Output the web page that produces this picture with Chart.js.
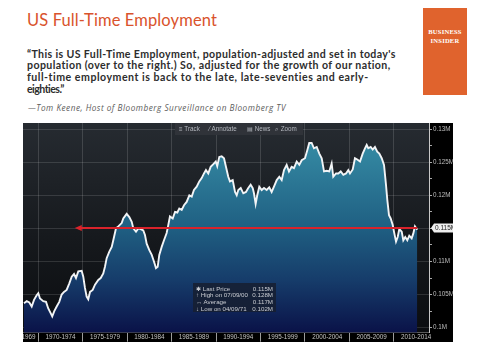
<!DOCTYPE html>
<html><head><meta charset="utf-8">
<script src="https://cdn.jsdelivr.net/npm/chart.js@4.4.1/dist/chart.umd.min.js"></script>
<style>
html,body{margin:0;padding:0;background:#fff;width:480px;height:359px;overflow:hidden;}
body{position:relative;font-family:Lato,"Open Sans",sans-serif;}
.abs{position:absolute;white-space:nowrap;line-height:1;}
#title{left:27px;top:12px;font-size:16.5px;color:#d9532c;font-weight:400;}
.q{left:27px;font-size:10.6px;font-weight:700;color:#2d2d2d;}
#attr{left:28px;top:104px;font-size:8.2px;font-style:italic;color:#5c5c5c;font-family:"Open Sans",sans-serif;}
#logo{position:absolute;left:423px;top:8px;width:44px;height:87px;background:#e0632d;}
#logo div{position:absolute;left:0;width:44px;text-align:center;color:#fff;font-family:"Liberation Serif","DejaVu Serif",serif;font-weight:700;font-size:6.6px;letter-spacing:0.2px;line-height:1;}
#panel{position:absolute;left:23px;top:123px;width:430px;height:219px;background:#000;}
#tb{position:absolute;left:175px;top:123px;width:128px;height:12px;background:rgba(48,52,58,0.95);color:#b5b9bf;font-family:"Liberation Sans",Arial,sans-serif;font-size:6.3px;line-height:12px;}
#tb span{position:absolute;top:0;}
#lg{position:absolute;left:193px;top:283px;width:83px;height:29px;background:rgba(22,30,48,0.85);color:#c9ccd2;font-family:"Liberation Sans",Arial,sans-serif;font-size:6.2px;}
#lg div{position:absolute;left:3px;width:77px;height:7px;line-height:7px;}
#lg b{font-weight:400;position:absolute;right:0;top:0;}
</style></head>
<body>
<div id="title" class="abs" data-w="190">US Full-Time Employment</div>
<div class="abs q" style="top:48.8px" data-w="369">“This is US Full-Time Employment, population-adjusted and set in today's</div>
<div class="abs q" style="top:60.4px" data-w="364">population (over to the right.) So, adjusted for the growth of our nation,</div>
<div class="abs q" style="top:72px" data-w="342">full-time employment is back to the late, late-seventies and early-</div>
<div class="abs q" style="top:83.6px" data-w="37">eighties.”</div>
<div id="attr" class="abs" data-w="258">—Tom Keene, Host of Bloomberg Surveillance on Bloomberg TV</div>
<div id="logo"><div style="top:21px">BUSINESS</div><div style="top:30px">INSIDER</div></div>
<div id="panel"><canvas id="c" width="430" height="219"></canvas></div>
<div id="tb"><span style="left:4px">≡ Track</span><span style="left:34px">⁄ Annotate</span><span style="left:72px">▤ News</span><span style="left:100px">⌕ Zoom</span></div>
<div id="lg"></div>
<script>
// ---- data ----
const years = [1968.39,1968.70,1968.99,1969.26,1969.52,1969.82,1970.00,1970.19,1970.56,1970.87,
1971.12,1971.39,1971.57,1971.80,1972.07,1972.36,1972.63,1972.89,1973.19,1973.49,
1973.76,1974.02,1974.24,1974.50,1974.88,1975.06,1975.25,1975.44,1975.62,1975.82,
1976.12,1976.38,1976.75,1977.02,1977.31,1977.50,1977.69,1977.99,1978.26,1978.52,
1978.74,1979.00,1979.38,1979.56,1979.94,1980.24,1980.51,1980.69,1980.99,1981.25,
1981.52,1981.81,1982.00,1982.19,1982.49,1982.76,1983.01,1983.24,1983.43,1983.61,
1983.88,1984.14,1984.44,1984.62,1984.81,1985.12,1985.38,1985.64,1985.86,1986.13,
1986.39,1986.69,1986.99,1987.26,1987.51,1987.82,1988.11,1988.38,1988.64,1988.86,
1989.12,1989.39,1989.69,1989.96,1990.13,1990.36,1990.63,1990.89,1991.11,1991.37,
1991.56,1991.87,1992.13,1992.32,1992.50,1992.77,1993.06,1993.36,1993.62,1993.89,
1994.12,1994.26,1994.45,1994.63,1994.86,1995.13,1995.39,1995.69,1995.98,1996.25,
1996.51,1996.82,1997.11,1997.38,1997.64,1997.94,1998.20,1998.50,1998.76,1999.07,
1999.36,1999.63,2000.00,2000.26,2000.48,2000.75,2001.01,2001.32,2001.61,2001.88,
2002.14,2002.44,2002.73,2003.00,2003.18,2003.49,2003.75,2004.02,2004.31,2004.61,
2004.87,2005.06,2005.37,2005.62,2005.88,2006.19,2006.49,2006.75,2006.94,2007.12,
2007.39,2007.62,2007.87,2008.13,2008.36,2008.63,2008.89,2009.11,2009.26,2009.45,
2009.64,2009.87,2010.01,2010.24,2010.43,2010.61,2010.88,2011.06,2011.28,2011.51,
2011.73,2012.00,2012.18,2012.37,2012.63];
const values = [0.1037,0.1040,0.1038,0.1032,0.1042,0.1049,0.1052,0.1044,0.1040,0.1039,
0.1029,0.1022,0.1017,0.1025,0.1032,0.1039,0.1050,0.1054,0.1057,0.1067,
0.1077,0.1081,0.1075,0.1085,0.1086,0.1077,0.1060,0.1047,0.1043,0.1054,
0.1057,0.1065,0.1072,0.1075,0.1082,0.1092,0.1105,0.1115,0.1122,0.1137,
0.1150,0.1153,0.1158,0.1165,0.1172,0.1167,0.1160,0.1150,0.1145,0.1150,
0.1149,0.1147,0.1140,0.1127,0.1117,0.1110,0.1100,0.1090,0.1092,0.1110,
0.1122,0.1132,0.1143,0.1155,0.1168,0.1165,0.1175,0.1174,0.1180,0.1178,
0.1185,0.1190,0.1200,0.1198,0.1208,0.1213,0.1221,0.1226,0.1233,0.1238,
0.1233,0.1243,0.1247,0.1251,0.1244,0.1258,0.1259,0.1256,0.1243,0.1228,
0.1221,0.1223,0.1205,0.1200,0.1208,0.1211,0.1203,0.1205,0.1211,0.1216,
0.1211,0.1203,0.1187,0.1200,0.1213,0.1208,0.1211,0.1208,0.1212,0.1205,
0.1213,0.1223,0.1228,0.1223,0.1238,0.1246,0.1236,0.1243,0.1241,0.1251,
0.1246,0.1253,0.1256,0.1268,0.1279,0.1279,0.1271,0.1273,0.1263,0.1256,
0.1236,0.1237,0.1236,0.1248,0.1228,0.1233,0.1233,0.1236,0.1231,0.1233,
0.1238,0.1233,0.1239,0.1256,0.1254,0.1251,0.1263,0.1271,0.1276,0.1271,
0.1273,0.1269,0.1273,0.1266,0.1263,0.1256,0.1246,0.1216,0.1193,0.1170,
0.1165,0.1155,0.1145,0.1130,0.1137,0.1149,0.1145,0.1132,0.1137,0.1132,
0.1139,0.1135,0.1142,0.1153,0.1148];
const periodLabels = ['1965-1969','1970-1974','1975-1979','1980-1984','1985-1989','1990-1994','1995-1999','2000-2004','2005-2009','2010-2014'];
const periodLabelPos = [1968.0,1972.5,1977.5,1982.5,1987.5,1992.5,1997.5,2002.5,2007.5,2012.5];
const periodBounds = [1970,1975,1980,1985,1990,1995,2000,2005,2010];
const yMajorTicks = [0.1,0.105,0.11,0.115,0.12,0.125,0.13];
const yTickLabels = ['0.1M','0.105M','0.11M','0.115M','0.12M','0.125M','0.13M'];
const yMinorTicks = [0.1025,0.1075,0.1125,0.1175,0.1225,0.1275];
const lastPrice = 0.115, lastPriceLabel = '0.115M';
const refLevel = 0.115, refStartYear = 1974.1;
const legendRows = [['✱ Last Price','0.115M'],['↑ High on 07/09/00','0.128M'],['↔ Average','0.117M'],['↓ Low on 04/09/71','0.102M']];

// legend overlay
const lg = document.getElementById('lg');
legendRows.forEach((r,i)=>{const d=document.createElement('div');d.style.top=(1.5+i*6.7)+'px';d.textContent=r[0];const b=document.createElement('b');b.textContent=r[1];d.appendChild(b);lg.appendChild(d);});

// fit text widths
document.querySelectorAll('[data-w]').forEach(el=>{const t=+el.dataset.w;const w=el.getBoundingClientRect().width;const n=el.textContent.length;el.style.letterSpacing=((t-w)/n)+'px';});

const near=(a,b)=>Math.abs(a-b)<1e-6;
const panelPlugin = {
  id:'panel',
  beforeDraw(chart){
    const {ctx, chartArea:a} = chart;
    ctx.save();
    const g = ctx.createLinearGradient(0,a.top,0,a.bottom);
    g.addColorStop(0,'#262b31'); g.addColorStop(0.55,'#16191d'); g.addColorStop(1,'#0b0d10');
    ctx.fillStyle=g; ctx.fillRect(a.left,a.top,a.right-a.left,a.bottom-a.top);
    ctx.restore();
  },
  afterDatasetsDraw(chart){
    const {ctx} = chart; const xs=chart.scales.x, ys=chart.scales.y;
    const y = Math.round(ys.getPixelForValue(refLevel));
    const x0 = xs.getPixelForValue(refStartYear), x1 = xs.getPixelForValue(years[years.length-1]);
    ctx.save();
    ctx.strokeStyle='#d9232b'; ctx.lineWidth=2;
    ctx.beginPath(); ctx.moveTo(x0+5,y); ctx.lineTo(x1,y); ctx.stroke();
    ctx.fillStyle='#d9232b';
    ctx.beginPath(); ctx.moveTo(x0,y); ctx.lineTo(x0+7,y-3); ctx.lineTo(x0+7,y+3); ctx.closePath(); ctx.fill();
    ctx.restore();
  },
  afterDraw(chart){
    const {ctx} = chart; const ys=chart.scales.y;
    const y = Math.round(ys.getPixelForValue(lastPrice));
    const x = ys.left+2;
    ctx.save();
    ctx.fillStyle='#eeeeee';
    ctx.beginPath(); ctx.moveTo(x,y); ctx.lineTo(x+3,y-4.5); ctx.lineTo(ys.right,y-4.5); ctx.lineTo(ys.right,y+4.5); ctx.lineTo(x+3,y+4.5); ctx.closePath(); ctx.fill();
    ctx.fillStyle='#222'; ctx.font='6.5px "Liberation Sans", Arial, sans-serif'; ctx.textBaseline='middle';
    ctx.fillText(lastPriceLabel, x+4, y+0.5);
    ctx.restore();
  }
};

new Chart(document.getElementById('c'), {
  type:'line',
  data:{datasets:[{
    data: years.map((x,i)=>({x, y: values[i]})),
    borderColor:'#f2f4f6', borderWidth:1.9, pointRadius:0, tension:0,
    fill:'start',
    backgroundColor:(c)=>{const a=c.chart.chartArea; if(!a) return 'rgba(0,0,0,0)';
      const g=c.chart.ctx.createLinearGradient(0,a.top,0,a.bottom);
      g.addColorStop(0,'#3a93ad'); g.addColorStop(0.12,'#3488a2'); g.addColorStop(0.5,'#1f5f82');
      g.addColorStop(0.75,'#163c6a'); g.addColorStop(1,'#0a1248'); return g;}
  }]},
  options:{
    responsive:false, animation:false, devicePixelRatio:1, events:[],
    layout:{padding:0},
    plugins:{legend:{display:false}, tooltip:{enabled:false}},
    scales:{
      x:{type:'linear', min:1968.28, max:2013.95,
        afterBuildTicks:(s)=>{s.ticks=[...periodLabelPos,...periodBounds].sort((a,b)=>a-b).map(v=>({value:v}));},
        afterFit:(s)=>{s.height=9.3; s.paddingLeft=0; s.paddingRight=0;},
        grid:{drawTicks:true, tickLength:9,
          color:(c)=>periodBounds.some(v=>near(v,c.tick&&c.tick.value))?'rgba(255,255,255,0.14)':'rgba(0,0,0,0)',
          tickColor:(c)=>periodBounds.some(v=>near(v,c.tick&&c.tick.value))?'#9c9c9c':'rgba(0,0,0,0)'},
        border:{display:true, color:'#5a5a5a', width:1},
        ticks:{autoSkip:false, maxRotation:0, minRotation:0, padding:-8.5, color:'#c4c4c4',
          font:{family:'"Liberation Sans", Arial, sans-serif', size:6.3},
          callback:(v)=>{const i=periodLabelPos.findIndex(p=>near(p,v)); return i>=0?periodLabels[i]:'';}}
      },
      y:{type:'linear', position:'right', min:0.09924, max:0.13092,
        afterBuildTicks:(s)=>{s.ticks=[...yMajorTicks,...yMinorTicks].sort((a,b)=>a-b).map(v=>({value:v}));},
        afterFit:(s)=>{s.width=24; s.paddingTop=0; s.paddingBottom=0;},
        grid:{drawTicks:true, tickLength:3,
          color:(c)=>yMajorTicks.some(v=>near(v,c.tick&&c.tick.value))?'rgba(255,255,255,0.13)':'rgba(0,0,0,0)',
          tickColor:'#a8a8a8'},
        border:{display:true, color:'#c8c8c8', width:1},
        ticks:{autoSkip:false, padding:1, color:'#bdbdbd',
          font:{family:'"Liberation Sans", Arial, sans-serif', size:6.3},
          callback:(v)=>{const i=yMajorTicks.findIndex(p=>near(p,v)); return i>=0?yTickLabels[i]:'';}}
      }
    }
  },
  plugins:[panelPlugin]
});
</script>
</body></html>
